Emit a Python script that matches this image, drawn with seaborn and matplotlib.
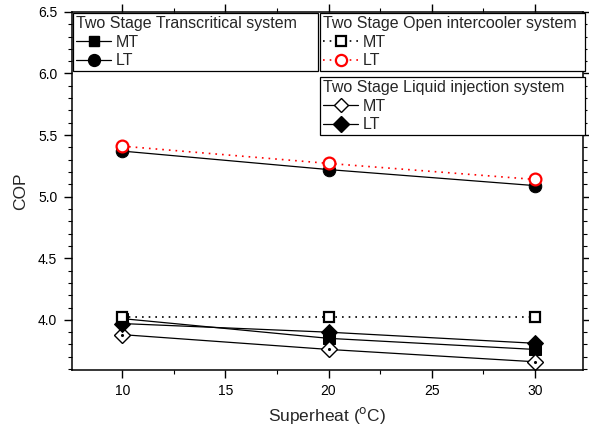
import matplotlib
matplotlib.use("Agg")
import matplotlib.pyplot as plt
import seaborn as sns
import pandas as pd
from matplotlib.lines import Line2D
from matplotlib.ticker import MultipleLocator, FormatStrFormatter

superheat = [10, 20, 30]
trans_mt = [4.01, 3.85, 3.76]
trans_lt = [5.37, 5.22, 5.09]
open_mt = [4.02, 4.02, 4.02]
open_lt = [5.41, 5.27, 5.14]
liq_mt = [3.88, 3.76, 3.66]
liq_lt = [3.97, 3.90, 3.81]

sns.set_style("ticks")
plt.rcParams['font.family'] = ['Liberation Sans', 'DejaVu Sans']

fig, ax = plt.subplots(figsize=(5.89, 4.25), dpi=100)
fig.subplots_adjust(left=0.122, right=0.99, top=0.972, bottom=0.13)

styles = [
    ("trans_mt", trans_mt, dict(color="black", linestyle="-", marker="s", markerfacecolor="black", markeredgecolor="black", markersize=8, linewidth=0.9)),
    ("trans_lt", trans_lt, dict(color="black", linestyle="-", marker="o", markerfacecolor="black", markeredgecolor="black", markersize=9, linewidth=0.9)),
    ("liq_mt", liq_mt, dict(color="black", linestyle="-", marker="D", markerfacecolor="white", markeredgecolor="black", markersize=8, linewidth=0.9, markeredgewidth=1.0)),
    ("liq_lt", liq_lt, dict(color="black", linestyle="-", marker="D", markerfacecolor="black", markeredgecolor="black", markersize=8.5, linewidth=0.9)),
    ("open_mt", open_mt, dict(color="black", linestyle=(0, (1, 3)), marker="s", markerfacecolor="white", markeredgecolor="black", markersize=7.5, markeredgewidth=1.6, linewidth=1.2)),
    ("open_lt", open_lt, dict(color="red", linestyle=(0, (1, 3)), marker="o", markerfacecolor="white", markeredgecolor="red", markersize=8.5, markeredgewidth=1.6, linewidth=1.2)),
]

for name, vals, kw in styles:
    df = pd.DataFrame({"Superheat": superheat, "COP": vals})
    sns.lineplot(data=df, x="Superheat", y="COP", ax=ax, legend=False, **kw)

# small dot in centre of open diamonds
ax.scatter(superheat, liq_mt, s=1.5, color="black", zorder=5)

ax.set_xlim(7.55, 32.35)
ax.set_ylim(3.595, 6.5)
ax.xaxis.set_major_locator(MultipleLocator(5))
ax.xaxis.set_minor_locator(MultipleLocator(2.5))
ax.yaxis.set_major_locator(MultipleLocator(0.5))
ax.yaxis.set_minor_locator(MultipleLocator(0.1))
ax.yaxis.set_major_formatter(FormatStrFormatter("%.1f"))
ax.tick_params(axis="both", which="both", direction="out", labelsize=10, colors="black")
ax.tick_params(which="major", length=5.5, width=1, pad=5)
ax.tick_params(which="minor", length=3.2, width=0.8)
ax.tick_params(axis="y", which="both", right=True, labelright=False)
ax.tick_params(axis="x", which="both", top=True, labeltop=False)
for s in ax.spines.values():
    s.set_linewidth(1.1)
    s.set_color("black")

ax.set_xlabel("Superheat ($^{\\mathrm{o}}$C)", fontsize=12.5, labelpad=5)
ax.set_ylabel("COP", fontsize=12.5, labelpad=7)


def handle(kw):
    h = dict(kw)
    h["markersize"] = kw["markersize"] * 0.95
    return Line2D([], [], **h)


lkw = dict(fontsize=11.5, title_fontsize=11.5, frameon=True, fancybox=False, edgecolor="black",
           framealpha=1, borderpad=0.2, labelspacing=0.22, handlelength=2.2, handletextpad=0.3,
           borderaxespad=0.0, mode="expand")

k = {n: kw for n, v, kw in styles}
leg1 = ax.legend([handle(k["trans_mt"]), handle(k["trans_lt"])], ["MT", "LT"],
                 title="Two Stage Transcritical system", loc="upper left",
                 bbox_to_anchor=(0.002, 0.997, 0.479, 0.0), **lkw)
leg1._legend_box.align = "left"
ax.add_artist(leg1)
leg2 = ax.legend([handle(k["open_mt"]), handle(k["open_lt"])], ["MT", "LT"],
                 title="Two Stage Open intercooler system", loc="upper left",
                 bbox_to_anchor=(0.485, 0.997, 0.519, 0.0), **lkw)
leg2._legend_box.align = "left"
ax.add_artist(leg2)
leg3 = ax.legend([handle(k["liq_mt"]), handle(k["liq_lt"])], ["MT", "LT"],
                 title="Two Stage Liquid injection system", loc="upper left",
                 bbox_to_anchor=(0.485, 0.818, 0.519, 0.0), **lkw)
leg3._legend_box.align = "left"
for lg in (leg1, leg2, leg3):
    lg.get_frame().set_linewidth(0.9)

fig.savefig("out.png", dpi=100)
